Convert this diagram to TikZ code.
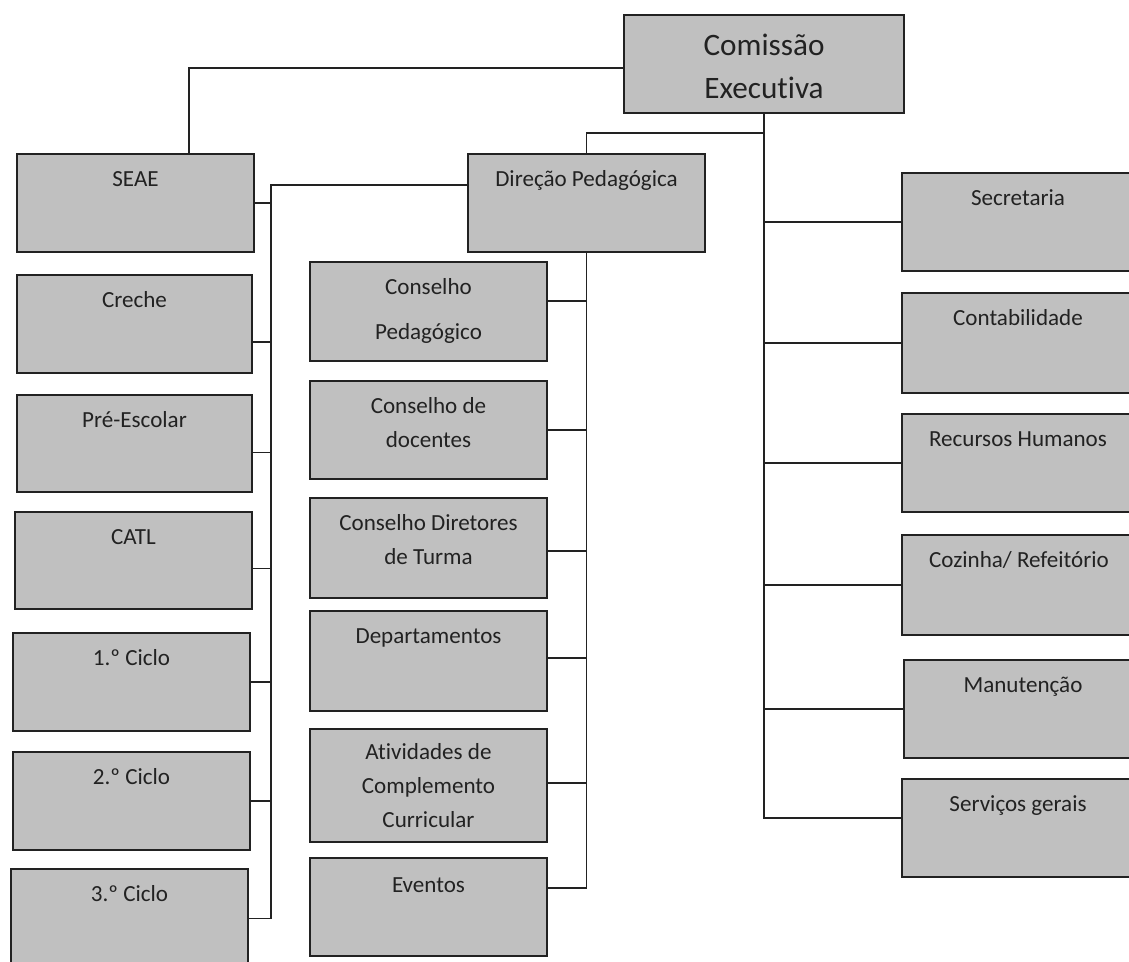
\documentclass[tikz,border=0pt]{standalone}
\usepackage{fontspec}
\setmainfont{Carlito}[Ligatures={NoCommon,NoContextual}]
\definecolor{boxfill}{HTML}{C0C0C0}
\definecolor{ink}{HTML}{222222}
\newcommand\nl{\kern0pt }
\tikzset{
  orgbox/.style={draw=ink, fill=boxfill, line width=1.4pt, inner sep=0pt, outer sep=0pt},
  lbl/.style={anchor=north, inner sep=0pt, align=center, text=ink, font=\fontsize{17.3}{25.5}\selectfont},
  biglbl/.style={lbl, font=\fontsize{23.4}{32.25}\selectfont},
  conn/.style={draw=ink, line width=1.3pt},
}
% name, left, top, right, bottom, label style, strut height, text
\newcommand\OB[8]{%
  \node[orgbox, minimum width={(#4-#2)*0.75pt}, minimum height={(#5-#3)*0.75pt}] (#1) at ({(#2+#4)/2},{(#3+#5)/2}) {};
  \node[#6] (#1-t) at ([yshift=-7.5pt]#1.north) {\rule{0pt}{#7}#8};
}
\begin{document}
\begin{tikzpicture}[x=0.75pt,y=-0.75pt]
\fill[white] (0,0) rectangle (1129,962);
\useasboundingbox (0,0) rectangle (1129,962);

% top
\OB{ce}{624}{15}{904}{113}{biglbl}{22.5pt}{Comissão\\Execut\nl iva}

% left column
\OB{seae}{17}{154}{254}{252}{lbl}{16.5pt}{SEAE}
\OB{creche}{17}{275}{252}{373}{lbl}{16.5pt}{Creche}
\OB{pre}{17}{395}{252}{492}{lbl}{16.5pt}{Pré-Escolar}
\OB{catl}{15}{512}{252}{609}{lbl}{16.5pt}{CATL}
\OB{c1}{13}{633}{250}{731}{lbl}{16.5pt}{1.º Ciclo}
\OB{c2}{13}{752}{250}{850}{lbl}{16.5pt}{2.º Ciclo}
\OB{c3}{11}{869}{248}{968}{lbl}{16.5pt}{3.º Ciclo}

% middle column
\OB{dp}{468}{154}{705}{252}{lbl}{16.5pt}{Direção Pedagógica}
\OB{cp}{310}{262}{547}{361}{lbl}{16.5pt}{Conselho\\[8.25pt]Pedagógico}
\OB{cd}{310}{381}{547}{479}{lbl}{16.5pt}{Conselho de\\docentes}
\OB{cdt}{310}{498}{547}{598}{lbl}{16.5pt}{Conselho Diretores\\de Turma}
\OB{dep}{310}{611}{547}{711}{lbl}{16.5pt}{Departamentos}
\OB{acc}{310}{729}{547}{842}{lbl}{15pt}{At\nl ividades de\\Complemento\\Curricular}
\OB{ev}{310}{858}{547}{956}{lbl}{18pt}{Eventos}

% right column
\OB{sec}{902}{173}{1134}{271}{lbl}{16.5pt}{Secretaria}
\OB{cont}{902}{293}{1134}{393}{lbl}{16.5pt}{Contabilidade}
\OB{rh}{902}{414}{1134}{512}{lbl}{16.5pt}{Recursos Humanos}
\OB{coz}{902}{535}{1136}{635}{lbl}{16.5pt}{Cozinha/ Refeitório}
\OB{man}{904}{660}{1142}{758}{lbl}{16.5pt}{Manutenção}
\OB{sg}{902}{779}{1134}{877}{lbl}{16.5pt}{Serviços gerais}

% connectors: top
\draw[conn] ([yshift=-3pt]ce.west) -| ([xshift=40pt]seae.north);
\draw[conn] (ce.south) |- ([yshift=7.5pt]sg.west);
\draw[conn] ([yshift=-15pt]ce.south) -| (dp.north);
\foreach \n in {sec,cont,rh,coz,man}
  \draw[conn] (\n.west) -- (ce.south |- \n.west);

% left bus
\coordinate (lbus) at (271,0);
\draw[conn] ([yshift=13.5pt]dp.west) -| (lbus |- c3.east) -- (c3.east);
\foreach \n/\s in {seae/0pt,creche/-13.5pt,pre/-6.75pt,catl/-6pt,c1/0pt,c2/0pt}{
  \path ([yshift=\s]\n.east) coordinate (\n-c);
  \draw[conn] (\n-c) -- (lbus |- \n-c);
}

% middle bus
\draw[conn] (dp.south) |- ([yshift=14.25pt]ev.east);
\foreach \n/\s in {cp/7.9pt,cd/0pt,cdt/-2.25pt,dep/2.25pt,acc/1.9pt}{
  \path ([yshift=\s]\n.east) coordinate (\n-c);
  \draw[conn] (\n-c) -- (dp.south |- \n-c);
}
\end{tikzpicture}
\end{document}
